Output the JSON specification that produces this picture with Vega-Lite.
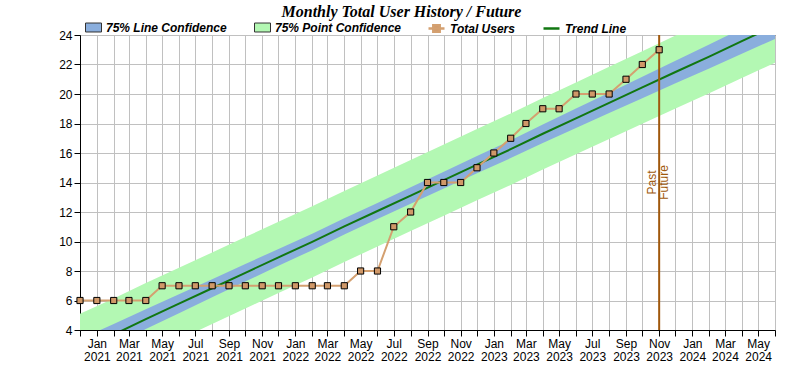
{
  "$schema": "https://vega.github.io/schema/vega-lite/v6.json",
  "width": 695,
  "height": 295,
  "autosize": "none",
  "padding": {"left": 80, "top": 35, "right": 15, "bottom": 35},
  "background": "white",
  "title": {
    "text": "Monthly Total User History / Future",
    "font": "Liberation Serif",
    "fontSize": 16,
    "fontWeight": "bold",
    "fontStyle": "italic",
    "color": "#000000",
    "anchor": "middle",
    "frame": "group",
    "dx": -26,
    "dy": 5,
    "offset": 4
  },
  "config": {
    "view": {"stroke": "#000000", "strokeWidth": 1},
    "axis": {
      "labelFont": "Liberation Sans",
      "labelFontSize": 12,
      "labelColor": "#000000",
      "domainColor": "#000000",
      "tickColor": "#000000",
      "gridColor": "#c0c0c0",
      "gridWidth": 1,
      "gridOpacity": 1,
      "tickSize": 6,
      "labelFlush": false,
      "labelOverlap": false
    },
    "legend": {
      "orient": "none",
      "legendY": -16,
      "direction": "horizontal",
      "title": null,
      "labelFont": "Liberation Sans",
      "labelFontSize": 12,
      "labelFontWeight": "bold",
      "labelFontStyle": "italic",
      "labelColor": "#000000",
      "labelLimit": 400,
      "labelOffset": 4,
      "columnPadding": 25,
      "symbolSize": 256,
      "symbolOpacity": 1,
      "padding": 0
    }
  },
  "datasets": {
    "bands": [
      {"date": "2020-12-01", "trend": 2.643, "lineLo": 1.894, "lineHi": 3.392, "ptLo": 0.181, "ptHi": 5.105},
      {"date": "2021-02-01", "trend": 3.690, "lineLo": 2.979, "lineHi": 4.401, "ptLo": 1.239, "ptHi": 6.141},
      {"date": "2021-04-01", "trend": 4.737, "lineLo": 4.061, "lineHi": 5.413, "ptLo": 2.296, "ptHi": 7.178},
      {"date": "2021-06-01", "trend": 5.785, "lineLo": 5.141, "lineHi": 6.429, "ptLo": 3.353, "ptHi": 8.217},
      {"date": "2021-08-01", "trend": 6.832, "lineLo": 6.217, "lineHi": 7.447, "ptLo": 4.407, "ptHi": 9.257},
      {"date": "2021-10-01", "trend": 7.879, "lineLo": 7.287, "lineHi": 8.471, "ptLo": 5.460, "ptHi": 10.298},
      {"date": "2021-12-01", "trend": 8.926, "lineLo": 8.353, "lineHi": 9.499, "ptLo": 6.512, "ptHi": 11.340},
      {"date": "2022-02-01", "trend": 9.973, "lineLo": 9.414, "lineHi": 10.532, "ptLo": 7.562, "ptHi": 12.384},
      {"date": "2022-04-01", "trend": 11.021, "lineLo": 10.469, "lineHi": 11.573, "ptLo": 8.612, "ptHi": 13.430},
      {"date": "2022-06-01", "trend": 12.068, "lineLo": 11.518, "lineHi": 12.618, "ptLo": 9.659, "ptHi": 14.477},
      {"date": "2022-08-01", "trend": 13.115, "lineLo": 12.560, "lineHi": 13.670, "ptLo": 10.705, "ptHi": 15.525},
      {"date": "2022-10-01", "trend": 14.162, "lineLo": 13.597, "lineHi": 14.727, "ptLo": 11.750, "ptHi": 16.574},
      {"date": "2022-12-01", "trend": 15.209, "lineLo": 14.627, "lineHi": 15.791, "ptLo": 12.793, "ptHi": 17.625},
      {"date": "2023-02-01", "trend": 16.257, "lineLo": 15.654, "lineHi": 16.860, "ptLo": 13.836, "ptHi": 18.678},
      {"date": "2023-04-01", "trend": 17.304, "lineLo": 16.675, "lineHi": 17.933, "ptLo": 14.876, "ptHi": 19.732},
      {"date": "2023-06-01", "trend": 18.351, "lineLo": 17.692, "lineHi": 19.010, "ptLo": 15.915, "ptHi": 20.787},
      {"date": "2023-08-01", "trend": 19.398, "lineLo": 18.705, "lineHi": 20.091, "ptLo": 16.953, "ptHi": 21.843},
      {"date": "2023-10-01", "trend": 20.445, "lineLo": 19.715, "lineHi": 21.175, "ptLo": 17.989, "ptHi": 22.901},
      {"date": "2023-12-01", "trend": 21.493, "lineLo": 20.724, "lineHi": 22.262, "ptLo": 19.025, "ptHi": 23.961},
      {"date": "2024-02-01", "trend": 22.540, "lineLo": 21.729, "lineHi": 23.351, "ptLo": 20.059, "ptHi": 25.021},
      {"date": "2024-04-01", "trend": 23.587, "lineLo": 22.732, "lineHi": 24.442, "ptLo": 21.091, "ptHi": 26.083},
      {"date": "2024-06-01", "trend": 24.634, "lineLo": 23.734, "lineHi": 25.534, "ptLo": 22.122, "ptHi": 27.146}
    ],
    "users": [
      {"date": "2020-12-01", "users": 6},
      {"date": "2021-01-01", "users": 6},
      {"date": "2021-02-01", "users": 6},
      {"date": "2021-03-01", "users": 6},
      {"date": "2021-04-01", "users": 6},
      {"date": "2021-05-01", "users": 7},
      {"date": "2021-06-01", "users": 7},
      {"date": "2021-07-01", "users": 7},
      {"date": "2021-08-01", "users": 7},
      {"date": "2021-09-01", "users": 7},
      {"date": "2021-10-01", "users": 7},
      {"date": "2021-11-01", "users": 7},
      {"date": "2021-12-01", "users": 7},
      {"date": "2022-01-01", "users": 7},
      {"date": "2022-02-01", "users": 7},
      {"date": "2022-03-01", "users": 7},
      {"date": "2022-04-01", "users": 7},
      {"date": "2022-05-01", "users": 8},
      {"date": "2022-06-01", "users": 8},
      {"date": "2022-07-01", "users": 11},
      {"date": "2022-08-01", "users": 12},
      {"date": "2022-09-01", "users": 14},
      {"date": "2022-10-01", "users": 14},
      {"date": "2022-11-01", "users": 14},
      {"date": "2022-12-01", "users": 15},
      {"date": "2023-01-01", "users": 16},
      {"date": "2023-02-01", "users": 17},
      {"date": "2023-03-01", "users": 18},
      {"date": "2023-04-01", "users": 19},
      {"date": "2023-05-01", "users": 19},
      {"date": "2023-06-01", "users": 20},
      {"date": "2023-07-01", "users": 20},
      {"date": "2023-08-01", "users": 20},
      {"date": "2023-09-01", "users": 21},
      {"date": "2023-10-01", "users": 22},
      {"date": "2023-11-01", "users": 23}
    ],
    "now": [
      {"date": "2023-11-01", "before": "Past", "after": "Future"}
    ]
  },
  "encoding": {
    "x": {
      "field": "date",
      "type": "temporal",
      "scale": {
        "type": "utc",
        "domain": [
          {"year": 2020, "month": 12, "date": 1, "utc": true},
          {"year": 2024, "month": 6, "date": 1, "utc": true}
        ],
        "nice": false
      },
      "axis": {
        "title": null,
        "tickCount": {"interval": "month", "step": 1},
        "labelExpr": "utcmonth(datum.value) % 2 == 0 ? [utcFormat(datum.value, '%b'), utcFormat(datum.value, '%Y')] : ''",
        "labelPadding": 2,
        "labelLineHeight": 13,
        "labelAlign": "center",
        "labelBaseline": "top",
        "grid": true
      }
    }
  },
  "layer": [
    {
      "data": {"name": "bands"},
      "mark": {"type": "area", "clip": true, "opacity": 1},
      "encoding": {
        "y": {
          "field": "ptLo",
          "type": "quantitative",
          "scale": {"domain": [4, 24], "nice": false, "zero": false},
          "axis": {"title": null, "values": [4, 6, 8, 10, 12, 14, 16, 18, 20, 22, 24], "labelPadding": 2, "grid": true}
        },
        "y2": {"field": "ptHi"},
        "fill": {
          "datum": "75% Point Confidence",
          "scale": {
            "domain": ["75% Line Confidence", "75% Point Confidence"],
            "range": ["#8aaedd", "#b3f8b3"]
          },
          "legend": {
            "legendX": 5,
            "symbolType": "M-1,-0.56H1V0.56H-1Z",
            "encode": {"symbols": {"update": {"stroke": {"value": "#333333"}, "strokeWidth": {"value": 1}}}}
          }
        }
      }
    },
    {
      "data": {"name": "bands"},
      "mark": {"type": "area", "clip": true, "opacity": 1},
      "encoding": {
        "y": {
          "field": "lineLo", "type": "quantitative",
          "scale": {"domain": [4, 24], "nice": false, "zero": false},
          "axis": {"title": null, "values": [4, 6, 8, 10, 12, 14, 16, 18, 20, 22, 24], "labelPadding": 2, "grid": true}
        },
        "y2": {"field": "lineHi"},
        "fill": {"datum": "75% Line Confidence"}
      }
    },
    {
      "data": {"name": "bands"},
      "mark": {"type": "line", "clip": true, "strokeWidth": 2},
      "encoding": {
        "y": {
          "field": "trend", "type": "quantitative",
          "scale": {"domain": [4, 24], "nice": false, "zero": false},
          "axis": {"title": null, "values": [4, 6, 8, 10, 12, 14, 16, 18, 20, 22, 24], "labelPadding": 2, "grid": true}
        },
        "color": {
          "datum": "Trend Line",
          "scale": {"domain": ["Trend Line"], "range": ["#117711"]},
          "legend": {
            "legendX": 462,
            "symbolType": "M-1,0H1",
            "symbolStrokeWidth": 2.5
          }
        }
      }
    },
    {
      "data": {"name": "users"},
      "mark": {"type": "line", "clip": true, "strokeWidth": 2},
      "encoding": {
        "y": {
          "field": "users", "type": "quantitative",
          "scale": {"domain": [4, 24], "nice": false, "zero": false},
          "axis": {"title": null, "values": [4, 6, 8, 10, 12, 14, 16, 18, 20, 22, 24], "labelPadding": 2, "grid": true}
        },
        "stroke": {
          "datum": "Total Users",
          "scale": {"domain": ["Total Users"], "range": ["#d4a070"]},
          "legend": {
            "legendX": 347,
            "symbolType": "M-1,0H1M-0.4,-0.4H0.4V0.4H-0.4Z",
            "symbolStrokeWidth": 2.5,
            "symbolFillColor": "#d09868"
          }
        }
      }
    },
    {
      "data": {"name": "now"},
      "mark": {"type": "rule", "color": "#a0580c", "strokeWidth": 2},
      "encoding": {}
    },
    {
      "data": {"name": "users"},
      "mark": {"type": "point", "shape": "square", "filled": true, "fill": "#d09868", "stroke": "#000000", "strokeWidth": 1, "size": 38, "opacity": 1},
      "encoding": {
        "y": {
          "field": "users", "type": "quantitative",
          "scale": {"domain": [4, 24], "nice": false, "zero": false},
          "axis": {"title": null, "values": [4, 6, 8, 10, 12, 14, 16, 18, 20, 22, 24], "labelPadding": 2, "grid": true}
        }
      }
    },
    {
      "data": {"name": "now"},
      "mark": {"type": "text", "angle": 270, "align": "center", "baseline": "bottom", "font": "Liberation Sans", "fontSize": 12, "color": "#a0580c"},
      "encoding": {
        "y": {
          "datum": 14, "type": "quantitative",
          "scale": {"domain": [4, 24], "nice": false, "zero": false},
          "axis": {"title": null, "values": [4, 6, 8, 10, 12, 14, 16, 18, 20, 22, 24], "labelPadding": 2, "grid": true}
        },
        "text": {"field": "before"}
      }
    },
    {
      "data": {"name": "now"},
      "mark": {"type": "text", "angle": 270, "align": "center", "baseline": "top", "font": "Liberation Sans", "fontSize": 12, "color": "#a0580c"},
      "encoding": {
        "y": {
          "datum": 14, "type": "quantitative",
          "scale": {"domain": [4, 24], "nice": false, "zero": false},
          "axis": {"title": null, "values": [4, 6, 8, 10, 12, 14, 16, 18, 20, 22, 24], "labelPadding": 2, "grid": true}
        },
        "text": {"field": "after"}
      }
    }
  ]
}
